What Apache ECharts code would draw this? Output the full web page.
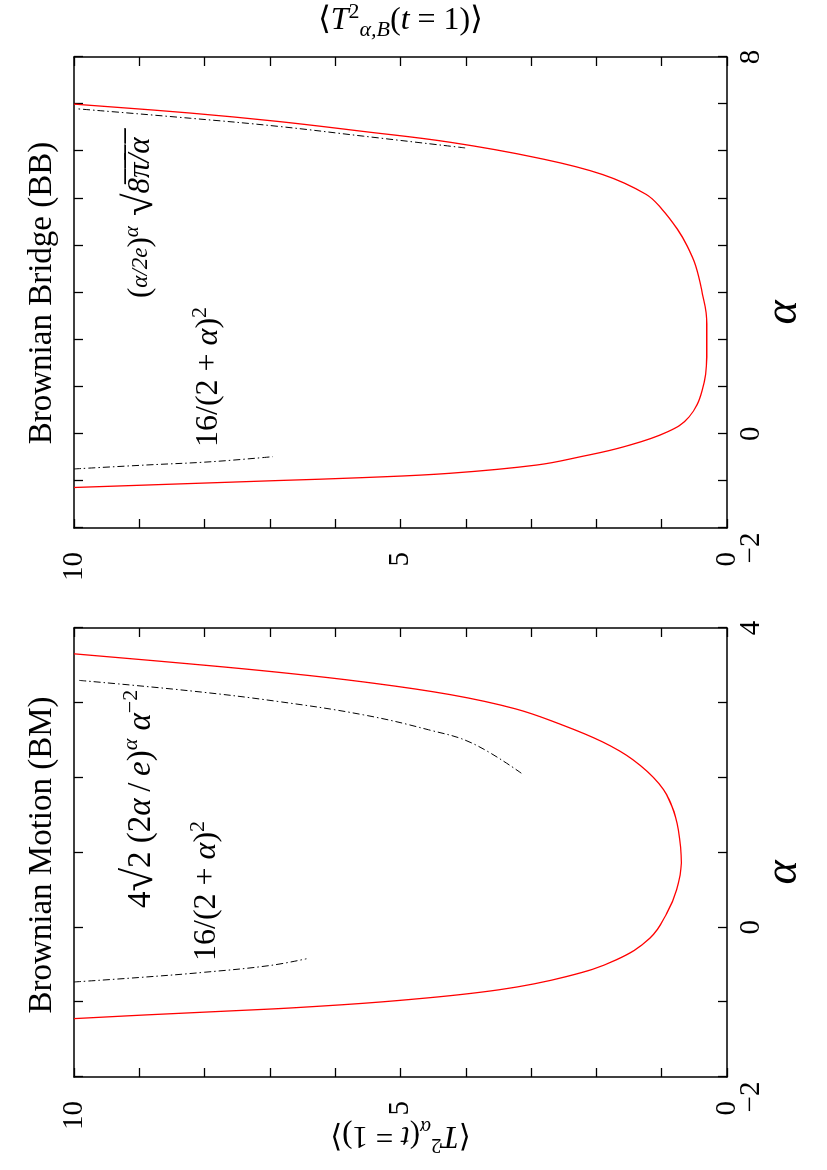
<!DOCTYPE html>
<html>
<head>
<meta charset="utf-8">
<script src="https://cdn.jsdelivr.net/npm/echarts/dist/echarts.min.js"></script>
<style>
  html, body { margin: 0; padding: 0; background: #fff; overflow: hidden; }
  body { width: 827px; height: 1170px; position: relative; }
  /* the figure is drawn landscape and turned a quarter turn, like the printed page */
  #chart { position: absolute; left: 0; top: 0; width: 1170px; height: 827px;
           transform-origin: 0 0; transform: translate(0, 1170px) rotate(-90deg); }
</style>
</head>
<body>
<div id="chart"></div>
<script>
// Brownian motion: <T^2_alpha(t=1)> against alpha
var bmAlpha = [-1.22, -1.17, -1.115, -1.07, -0.976, -0.833, -0.656, -0.432, -0.143, 0.191, 0.503, 0.86, 1.30, 1.61, 1.92, 2.24, 2.48, 2.72, 2.92, 3.11, 3.28, 3.41, 3.52, 3.655];
var bmT     = [10, 8.89, 7.56, 6.54, 5.01, 3.48, 2.45, 1.69, 1.18, 0.92, 0.77, 0.70, 0.745, 0.84, 1.04, 1.44, 1.91, 2.57, 3.24, 4.24, 5.57, 6.89, 8.22, 10];
// BM asymptotes (dash-dot)
var bmLowAlpha  = [-0.73, -0.67, -0.60, -0.51, -0.42];
var bmLowT      = [10, 9, 8, 7, 6.44];
var bmHighAlpha = [2.06, 2.46, 2.64, 2.84, 3.02, 3.16, 3.30];
var bmHighT     = [3.15, 3.90, 4.57, 5.57, 6.89, 8.22, 9.92];

// Brownian bridge: <T^2_{alpha,B}(t=1)> against alpha
var bbAlpha = [-1.14, -1.056, -0.993, -0.93, -0.838, -0.662, -0.486, -0.275, 0.042, 0.36, 0.92, 1.63, 2.33, 3.06, 3.57, 3.99, 4.345, 4.76, 5.085, 5.507, 5.86, 6.19, 6.42, 6.634, 6.81, 7.0];
var bbT     = [10, 8.22, 6.89, 5.57, 4.24, 2.91, 2.24, 1.58, 0.91, 0.58, 0.38, 0.31, 0.31, 0.39, 0.48, 0.61, 0.76, 0.99, 1.24, 1.91, 2.91, 4.24, 5.57, 6.89, 8.22, 10];
var bbLowAlpha  = [-0.746, -0.662, -0.592, -0.486];
var bbLowT      = [10, 8.89, 7.89, 6.96];
var bbHighAlpha = [6.07, 6.32, 6.53, 6.70, 6.90];
var bbHighT     = [4.01, 5.57, 6.89, 8.22, 9.95];

// labelled ticks
var bmAlphaLabels = [-2, 0, 4];
var bbAlphaLabels = [-2, 0, 8];
var tLabels = [0, 5, 10];

var SERIF = '"Liberation Serif", "DejaVu Serif", serif';

var frame = { show: true, onZero: false, lineStyle: { color: '#000', width: 1.5 } };
var ticks = { show: true, inside: true, length: 9, lineStyle: { color: '#000', width: 1.3 } };

function mathRich(size) {
  var s = Math.round(size * 0.68), lh = size + 8;
  return {
    n:    { fontFamily: SERIF, fontSize: size, color: '#000', lineHeight: lh },
    i:    { fontFamily: SERIF, fontSize: size, fontStyle: 'italic', color: '#000', lineHeight: lh },
    rt:   { fontFamily: SERIF, fontSize: size + 10, color: '#000', lineHeight: lh },
    sup:  { fontFamily: SERIF, fontSize: s, color: '#000', verticalAlign: 'top', lineHeight: lh },
    supi: { fontFamily: SERIF, fontSize: s, fontStyle: 'italic', color: '#000', verticalAlign: 'top', lineHeight: lh },
    sub:  { fontFamily: SERIF, fontSize: s, fontStyle: 'italic', color: '#000', verticalAlign: 'bottom', lineHeight: lh },
    fr:   { fontFamily: SERIF, fontSize: s + 2, fontStyle: 'italic', color: '#000', lineHeight: lh }
  };
}
var tickRich = { m: { fontFamily: SERIF, fontSize: 29, color: '#000', padding: [0, 40, 0, 0] } };

function alphaLabel(shown) {
  return function (v) {
    if (shown.indexOf(v) < 0) return '';
    return v < 0 ? '{m|\u2212' + (-v) + '}' : String(v);
  };
}

function alphaAxes(gi, max, shown) {
  return [
    { type: 'value', gridIndex: gi, position: 'bottom', min: -2, max: max, interval: 1,
      axisLine: frame, axisTick: ticks, splitLine: { show: false },
      axisLabel: { margin: 10, fontFamily: SERIF, fontSize: 29, color: '#000', rich: tickRich,
        showMinLabel: true, showMaxLabel: true, formatter: alphaLabel(shown) },
      name: 'α', nameLocation: 'middle', nameGap: 34, nameMoveOverlap: false,
      nameTextStyle: { fontFamily: SERIF, fontStyle: 'italic', fontSize: 46, color: '#000', padding: [0, 40, 0, 0] } },
    { type: 'value', gridIndex: gi, position: 'top', min: -2, max: max, interval: 1,
      axisLine: frame, axisTick: ticks, axisLabel: { show: false }, splitLine: { show: false } }
  ];
}

function tAxes(gi, leftName, rightName) {
  var left = { type: 'value', gridIndex: gi, position: 'left', min: 0, max: 10, interval: 1,
    axisLine: frame, axisTick: ticks, splitLine: { show: false },
    axisLabel: { margin: 24, fontFamily: SERIF, fontSize: 29, color: '#000',
      formatter: function (v) { return tLabels.indexOf(v) >= 0 ? String(v) : ''; } } };
  var right = { type: 'value', gridIndex: gi, position: 'right', min: 0, max: 10, interval: 1,
    axisLine: frame, axisTick: ticks, axisLabel: { show: false }, splitLine: { show: false } };
  if (leftName) {
    left.name = leftName; left.nameLocation = 'middle'; left.nameRotate = 90; left.nameGap = 39;
    left.nameMoveOverlap = false;
    left.nameTextStyle = { rich: mathRich(31) };
  }
  if (rightName) {
    right.name = rightName; right.nameLocation = 'middle'; right.nameRotate = -90; right.nameGap = 16;
    right.nameMoveOverlap = false;
    right.nameTextStyle = { rich: mathRich(32) };
  }
  return [left, right];
}

function pairs(a, t) { return a.map(function (v, k) { return [v, t[k]]; }); }

function curve(ax, a, t, dashed) {
  return {
    type: 'line', xAxisIndex: ax, yAxisIndex: ax, data: pairs(a, t),
    showSymbol: false, smooth: 0.4, silent: true,
    lineStyle: dashed
      ? { color: '#000', width: 1, type: [7, 3, 1.5, 3] }
      : { color: '#ff0000', width: 1.3 }
  };
}

var big = mathRich(33), mid = mathRich(32), small = mathRich(31);
var chart = echarts.init(document.getElementById('chart'));
chart.setOption({
  animation: false,
  backgroundColor: '#fff',
  grid: [
    { left: 93, top: 74, width: 449, height: 653 },
    { left: 642, top: 74, width: 471, height: 653 }
  ],
  xAxis: alphaAxes(0, 4, bmAlphaLabels).concat(alphaAxes(1, 8, bbAlphaLabels)),
  yAxis: tAxes(0, '{n|⟨}{i|T}{sup|2}{sub|α}{n|(}{i|t}{n| = 1)⟩}', null)
    .concat(tAxes(1, null, '{n|⟨}{i|T}{sup|2}{sub|α,B}{n|(}{i|t}{n| = 1)⟩}')),
  series: [
    curve(0, bmAlpha, bmT, false),
    curve(0, bmLowAlpha, bmLowT, true),
    curve(0, bmHighAlpha, bmHighT, true),
    curve(2, bbAlpha, bbT, false),
    curve(2, bbLowAlpha, bbLowT, true),
    curve(2, bbHighAlpha, bbHighT, true)
  ],
  graphic: [
    { type: 'text', x: 315, y: 42, style: { text: 'Brownian Motion (BM)', fontFamily: SERIF, fontSize: 33, fill: '#000', align: 'center', verticalAlign: 'middle' } },
    { type: 'text', x: 877, y: 42, style: { text: 'Brownian Bridge (BB)', fontFamily: SERIF, fontSize: 33, fill: '#000', align: 'center', verticalAlign: 'middle' } },
    { type: 'text', x: 262, y: 141, style: { text: '{n|4}{rt|√}{n|2 (2}{i|α}{n|\u2009/\u2009}{i|e}{n|)}{supi|α}{i| α}{sup|−2}', rich: big, align: 'left', verticalAlign: 'middle' } },
    { type: 'text', x: 209, y: 207, style: { text: '{n|16/(2 + }{i|α}{n|)}{sup|2}', rich: mid, align: 'left', verticalAlign: 'middle' } },
    { type: 'text', x: 872, y: 141, style: { text: '{n|(}{fr|α/2e}{n|)}{supi|α}{rt| √}{i|8\u0305π\u0305/\u0305α\u0305}', rich: small, align: 'left', verticalAlign: 'middle' } },
    { type: 'text', x: 723, y: 209, style: { text: '{n|16/(2 + }{i|α}{n|)}{sup|2}', rich: mid, align: 'left', verticalAlign: 'middle' } }
  ]
});
</script>
</body>
</html>
